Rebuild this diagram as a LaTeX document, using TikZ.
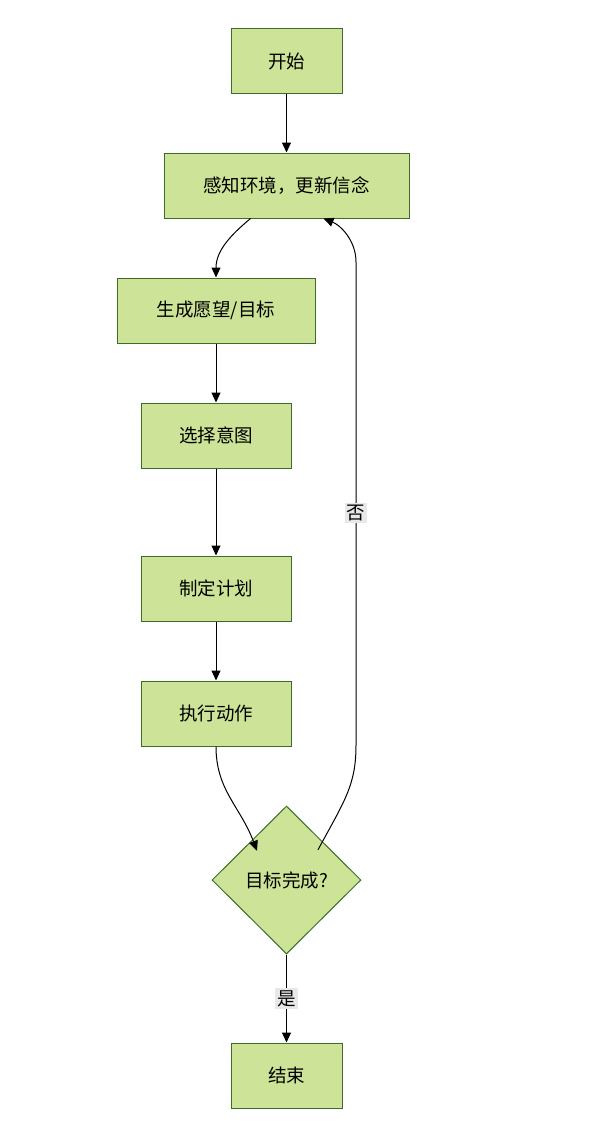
\documentclass[tikz,border=0pt]{standalone}
\usepackage{fontspec}
\setmainfont{Noto Sans CJK SC}
\usetikzlibrary{shapes.geometric,arrows.meta,calc}
\definecolor{nodefill}{HTML}{CDE498}
\definecolor{nodestroke}{HTML}{3C6E2A}
\definecolor{lblbg}{HTML}{E8E8E8}
\begin{document}
\begin{tikzpicture}[x=1pt,y=-1pt,
  box/.style={draw=nodestroke,fill=nodefill,line width=1pt,minimum height=65pt,inner sep=0pt,font=\fontsize{18.5}{22}\selectfont},
  dec/.style={draw=nodestroke,fill=nodefill,line width=1pt,diamond,minimum width=149pt,minimum height=148pt,inner sep=0pt,font=\fontsize{18.5}{22}\selectfont},
  conn/.style={draw=black,line width=1pt,-{Triangle[length=10pt,width=9pt]}},
  lbl/.style={fill=lblbg,inner sep=2pt,font=\fontsize{18.5}{22}\selectfont}]
\useasboundingbox (0,0) rectangle (613,1132);
\node[box,minimum width=111pt] (start) at (286.5,61) {开始};
\node[box,minimum width=245pt] (sense) at (286.5,185.5) {感知环境，更新信念};
\node[box,minimum width=198pt] (gen) at (216,310.5) {生成愿望/目标};
\node[box,minimum width=150pt] (sel) at (216,435.5) {选择意图};
\node[box,minimum width=150pt] (plan) at (216,588.5) {制定计划};
\node[box,minimum width=150pt] (exec) at (216,713.5) {执行动作};
\node[dec] (done) at (286.5,880) {目标完成?};
\node[box,minimum width=111pt] (stop) at (286.5,1075.5) {结束};

\draw[conn] (start) -- (sense);
\draw[conn] ([xshift=-36pt]sense.south) .. controls (232,234) and (216,250) .. (gen.north);
\draw[conn] (gen) -- (sel);
\draw[conn] (sel) -- (plan);
\draw[conn] (plan) -- (exec);
\draw[conn] (exec.south) .. controls (216,790) and (240,806) .. ([shift={(8pt,-8pt)}]done.north west);
\coordinate (nb1) at (356,745);
\coordinate (nb2) at (356,262);
\draw[conn] ([shift={(-6pt,-7pt)}]done.north east) .. controls (345,800) and (356,785) .. (nb1) -- node[lbl,pos=0.48] (no) {否} (nb2) .. controls (356,240) and (340,225) .. ([xshift=37pt]sense.south);
\draw[conn] (done.south) -- node[lbl,pos=0.5] (yes) {是} (stop.north);
\end{tikzpicture}
\end{document}
